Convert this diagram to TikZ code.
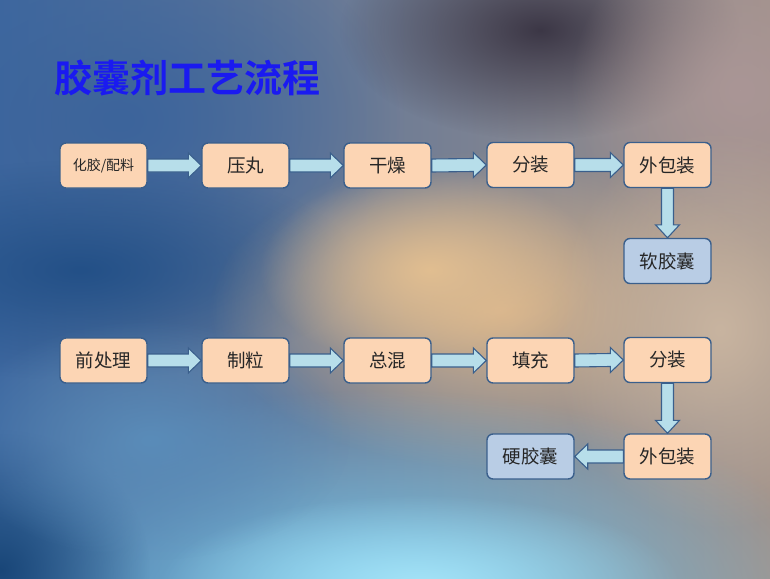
\documentclass[tikz,border=0pt]{standalone}
\usepackage{fontspec}
\newfontfamily\cjk{Noto Sans CJK SC}
\newfontfamily\cjkb{Noto Sans CJK SC Bold}
\usetikzlibrary{calc,fadings}
\definecolor{boxfill}{HTML}{FCD5B4}
\definecolor{boxline}{HTML}{3A5F8C}
\definecolor{endfill}{HTML}{B9CDE5}
\definecolor{arrfill}{HTML}{B7DEEA}
\definecolor{titleblue}{HTML}{1A1AF0}
\tikzfading[name=softblob, inner color=transparent!0, outer color=transparent!100]
\tikzset{
  stepbox/.style={draw=boxline, line width=1.4pt, fill=boxfill, rounded corners=6pt,
    minimum width=87pt, minimum height=45pt, inner sep=0pt, font=\cjk\fontsize{18.5}{19}\selectfont, text=black!85},
  endbox/.style={stepbox, fill=endfill},
  blockarrow/.style={draw=boxline, line width=1.1pt, fill=arrfill, line join=miter},
  blob/.style={path fading=softblob}
}
\newcommand{\harrow}[2]{%
  \draw[blockarrow] ($(#1.east)+(0,-6.5)$) -- ($(#2.west)+(-13,-6.5)$) -- ($(#2.west)+(-13,-12.5)$) -- (#2.west)
   -- ($(#2.west)+(-13,12.5)$) -- ($(#2.west)+(-13,6.5)$) -- ($(#1.east)+(0,6.5)$) -- cycle;}
\newcommand{\larrow}[2]{%
  \draw[blockarrow] ($(#1.west)+(0,-6.5)$) -- ($(#2.east)+(13,-6.5)$) -- ($(#2.east)+(13,-12.5)$) -- (#2.east)
   -- ($(#2.east)+(13,12.5)$) -- ($(#2.east)+(13,6.5)$) -- ($(#1.west)+(0,6.5)$) -- cycle;}
\newcommand{\varrow}[2]{%
  \draw[blockarrow] ($(#1.south)+(-6,0)$) -- ($(#2.north)+(-6,-13)$) -- ($(#2.north)+(-12,-13)$) -- (#2.north)
   -- ($(#2.north)+(12,-13)$) -- ($(#2.north)+(6,-13)$) -- ($(#1.south)+(6,0)$) -- cycle;}
\begin{document}
\begin{tikzpicture}[x=1pt,y=-1pt]
% background
\useasboundingbox (0,0) rectangle (770,578);
\shade[left color={rgb,255:red,62;green,104;blue,160}, right color={rgb,255:red,160;green,145;blue,138}] (0,0) rectangle (770,578);
\begin{scope}
\clip (0,0) rectangle (770,578);
\fill[blob, color={rgb,255:red,60;green,100;blue,155}] (120,120) ellipse (280 and 200);
\fill[blob, color={rgb,255:red,35;green,80;blue,135}] (80,270) ellipse (280 and 110);
\fill[blob, color={rgb,255:red,60;green,55;blue,70}] (540,30) ellipse (200 and 110);
\fill[blob, color={rgb,255:red,170;green,150;blue,150}] (740,90) ellipse (170 and 170);
\fill[blob, color={rgb,255:red,215;green,180;blue,140}] (500,310) ellipse (290 and 160);
\fill[blob, color={rgb,255:red,225;green,190;blue,145}] (430,270) ellipse (170 and 100);
\fill[blob, color={rgb,255:red,200;green,180;blue,160}] (720,330) ellipse (170 and 200);
\fill[blob, color={rgb,255:red,120;green,200;blue,235}] (380,600) ellipse (460 and 210);
\fill[blob, color={rgb,255:red,165;green,228;blue,248}] (420,585) ellipse (260 and 90);
\fill[blob, color={rgb,255:red,25;green,70;blue,120}] (0,570) ellipse (150 and 140);
\fill[blob, color={rgb,255:red,90;green,140;blue,185}] (150,440) ellipse (200 and 120);
\end{scope}
% title
\node[anchor=west, text=titleblue, font=\cjkb\fontsize{38}{38}\selectfont, inner sep=0pt] (title) at (54,78) {胶囊剂工艺流程};
% row 1
\node[stepbox, font=\cjk\fontsize{14}{14}\selectfont] (a1) at (103.5,165.5) {化胶/配料};
\node[stepbox] (a2) at (245.5,165.5) {压丸};
\node[stepbox] (a3) at (387.5,165.5) {干燥};
\node[stepbox] (a4) at (530.5,165) {分装};
\node[stepbox] (a5) at (667.5,165) {外包装};
\node[endbox] (a6) at (667.5,261) {软胶囊};
\harrow{a1}{a2}
\harrow{a2}{a3}
\harrow{a3}{a4}
\harrow{a4}{a5}
\varrow{a5}{a6}
% row 2
\node[stepbox] (b1) at (103.5,360.5) {前处理};
\node[stepbox] (b2) at (245.5,360.5) {制粒};
\node[stepbox] (b3) at (387.5,360.5) {总混};
\node[stepbox] (b4) at (530.5,360.5) {填充};
\node[stepbox] (b5) at (667.5,360) {分装};
\node[stepbox] (b6) at (667.5,456.5) {外包装};
\node[endbox] (b7) at (530.5,456.5) {硬胶囊};
\harrow{b1}{b2}
\harrow{b2}{b3}
\harrow{b3}{b4}
\harrow{b4}{b5}
\varrow{b5}{b6}
\larrow{b6}{b7}
\end{tikzpicture}
\end{document}
